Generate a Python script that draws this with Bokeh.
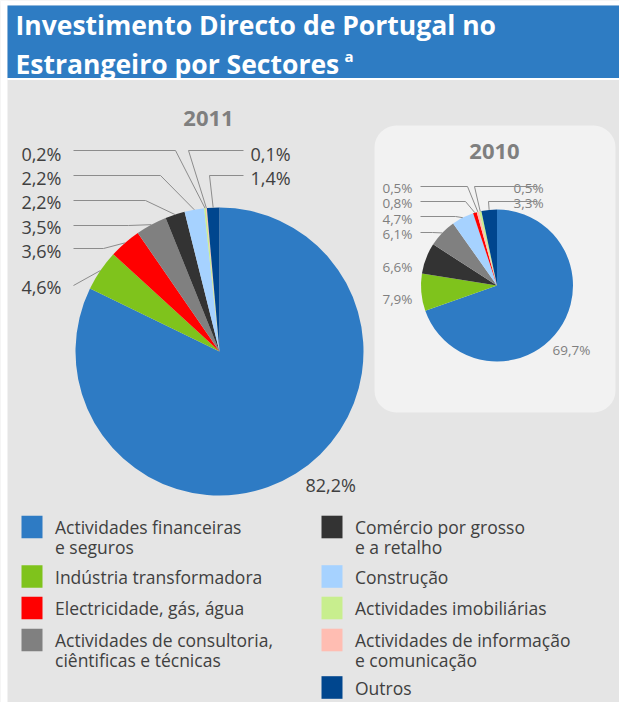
import numpy as np
from bokeh.plotting import figure
from bokeh.models import Range1d, BoxAnnotation
from bokeh.core.properties import value
from bokeh.embed import file_html
from bokeh.resources import INLINE

# ---------------- data ----------------
title_lines = ["Investimento Directo de Portugal no", "Estrangeiro por Sectores"]
title_sup = "a"
years = ["2011", "2010"]
legend_lines = [
    ["Actividades financeiras", "e seguros"],
    ["Indústria transformadora"],
    ["Electricidade, gás, água"],
    ["Actividades de consultoria,", "ciêntificas e técnicas"],
    ["Comércio por grosso", "e a retalho"],
    ["Construção"],
    ["Actividades imobiliárias"],
    ["Actividades de informação", "e comunicação"],
    ["Outros"],
]
colors = ["#2e7bc4", "#7fc31c", "#ff0000", "#808080", "#333333",
          "#a6d2ff", "#c8ee8e", "#ffbdb2", "#00468e"]
values_2011 = [82.2, 4.6, 3.6, 3.5, 2.2, 2.2, 0.2, 0.1, 1.4]
values_2010 = [69.7, 7.9, 0.8, 6.1, 6.6, 4.7, 0.5, 0.5, 3.3]
order_2011 = [0, 1, 2, 3, 4, 5, 6, 7, 8]
order_2010 = [0, 1, 4, 3, 5, 2, 7, 6, 8]

# ---------------- layout (page pixel coords) ----------------
W, H = 619, 702
def X(px):
    return px
def Y(py):
    return H - py

FONT = value("Open Sans")
BANNER = "#2e7cc3"
BG = "#e5e5e5"

p = figure(width=W, height=H, output_backend="svg", toolbar_location=None,
           x_range=Range1d(0, W), y_range=Range1d(0, H), min_border=0,
           background_fill_color=BG, border_fill_color=BG, outline_line_color=None)
p.axis.visible = False
p.grid.visible = False

# white margins + banner
p.quad(left=[0], right=[W], top=[Y(0)], bottom=[Y(5)], fill_color="white", line_color=None)
p.quad(left=[0], right=[X(7)], top=[Y(0)], bottom=[Y(H)], fill_color="white", line_color=None)
p.quad(left=[X(7)], right=[W], top=[Y(5)], bottom=[Y(77.5)], fill_color=BANNER, line_color=None)
p.quad(left=[X(7)], right=[W], top=[Y(77.5)], bottom=[Y(79.5)], fill_color="white", line_color=None)

p.text(x=[X(15), X(15)], y=[Y(24), Y(63)], text=title_lines, text_font=FONT,
       text_font_style="bold", text_font_size="26.5px", text_color="white",
       text_align="left", text_baseline="middle")
p.text(x=[X(344)], y=[Y(55)], text=[title_sup], text_font=FONT, text_font_style="bold",
       text_font_size="15px", text_color="white", text_align="left", text_baseline="middle")

# 2010 box
p.add_layout(BoxAnnotation(left=X(374), right=X(615), top=Y(125), bottom=Y(412),
                           fill_color="#f2f2f2", fill_alpha=1.0, line_color=None,
                           border_radius=22, level="underlay"))


def draw_pie(cx, cy, r, vals, order):
    v = np.array([vals[i] for i in order], dtype=float)
    frac = v / v.sum()
    ends = np.cumsum(frac)
    starts = ends - frac
    p.wedge(x=X(cx), y=Y(cy), radius=r,
            start_angle=list(np.pi / 2 - 2 * np.pi * ends),
            end_angle=list(np.pi / 2 - 2 * np.pi * starts),
            fill_color=[colors[i] for i in order], line_color=None)
    pts = {}
    for k, i in enumerate(order):
        m = (starts[k] + ends[k]) / 2
        pts[i] = (cx + r * np.sin(2 * np.pi * m), cy - r * np.cos(2 * np.pi * m))
    return pts


def fmt(v):
    return f"{v:.1f}".replace(".", ",") + "%"


def labels(pts, vals, spec, left_x, right_x, line_left, line_right, size, color, lcolor):
    xs, ys = [], []
    for i, (side, ty, ly, elbow) in spec.items():
        if side == "left":
            tx, al = left_x, "right"
        elif side == "right":
            tx, al = right_x, "left"
        else:
            tx, al = side, "left"
        p.text(x=[X(tx)], y=[Y(ty)], text=[fmt(vals[i])], text_font=FONT,
               text_font_size=size, text_color=color, text_align=al, text_baseline="middle")
        if ly is None:
            continue
        ex, ey = pts[i]
        sx = line_left if side == "left" else line_right
        if elbow is None:
            xs.append([X(sx), X(ex)]); ys.append([Y(ly), Y(ey)])
        else:
            xs.append([X(sx), X(elbow), X(ex)]); ys.append([Y(ly), Y(ly), Y(ey)])
    p.multi_line(xs=xs, ys=ys, line_color=lcolor, line_width=1)


# 2011
pts11 = draw_pie(219, 351, 144, values_2011, order_2011)
spec11 = {
    6: ("left", 153, 150, 175),
    5: ("left", 177, 175, 160),
    4: ("left", 201, 200, 145),
    3: ("left", 226, 225, 128),
    2: ("left", 250, 248, 103),
    1: ("left", 286, 285, None),
    7: ("right", 153, 150, 188),
    8: ("right", 177, 175, 209),
    0: (305, 484, None, None),
}
labels(pts11, values_2011, spec11, 61, 250, 73, 243, "18px", "#404040", "#8c8c8c")
p.text(x=[X(208)], y=[Y(118)], text=[years[0]], text_font=FONT, text_font_style="bold",
       text_font_size="22px", text_color="#7f7f7f", text_align="center", text_baseline="middle")

# 2010
pts10 = draw_pie(496.5, 285, 76, values_2010, order_2010)
spec10 = {
    7: ("left", 187, 186, 467),
    2: ("left", 202, 201, 465),
    5: ("left", 218, 216, 455),
    3: ("left", 233, 232, 432),
    4: ("left", 266, None, None),
    1: ("left", 298, None, None),
    6: ("right", 187, 186, 474),
    8: ("right", 202, 201, 488),
    0: (552, 349, None, None),
}
labels(pts10, values_2010, spec10, 412, 513, 420, 537, "13.5px", "#7f7f7f", "#8c8c8c")
p.text(x=[X(494)], y=[Y(151)], text=[years[1]], text_font=FONT, text_font_style="bold",
       text_font_size="22px", text_color="#7f7f7f", text_align="center", text_baseline="middle")

# legend
col_x = [21, 321]
rows = [(0, 526.5), (0, 576), (0, 607.5), (0, 639.5), (1, 526.5), (1, 576), (1, 607.5), (1, 639.5), (1, 687)]
lq = dict(left=[], right=[], top=[], bottom=[])
tx, ty, tt = [], [], []
for i, (c, cy) in enumerate(rows):
    lq["left"].append(X(col_x[c])); lq["right"].append(X(col_x[c] + 21))
    lq["top"].append(Y(cy - 11.3)); lq["bottom"].append(Y(cy + 11.3))
    for j, line in enumerate(legend_lines[i]):
        tx.append(X(col_x[c] + 33.5)); ty.append(Y(cy + 20 * j)); tt.append(line)
p.quad(left=lq["left"], right=lq["right"], top=lq["top"], bottom=lq["bottom"],
       fill_color=colors, line_color=None)
p.text(x=tx, y=ty, text=tt, text_font=FONT, text_font_size="17.5px", text_color="#404040",
       text_align="left", text_baseline="middle")

open("out.html", "w").write(file_html(p, INLINE))
